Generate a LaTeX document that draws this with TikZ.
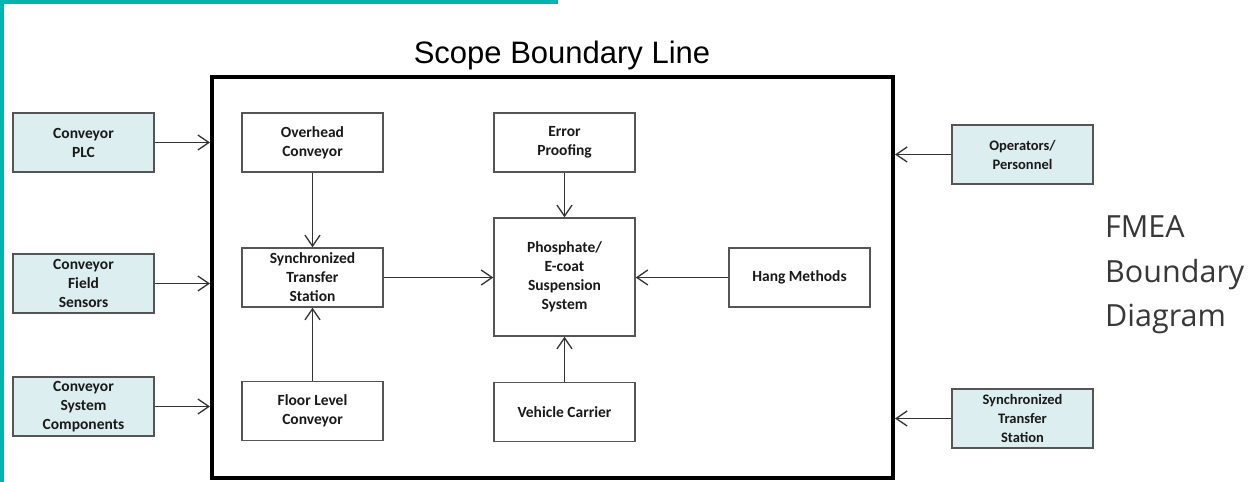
\documentclass[tikz,border=0pt]{standalone}
\usepackage{fontspec}
\setmainfont{Carlito}
\newfontfamily\arialf{Liberation Sans}
\newfontfamily\osans{Open Sans}
\usetikzlibrary{arrows.meta}
\definecolor{teal1}{HTML}{00B5AD}
\definecolor{boxfill}{HTML}{DDEEF0}
\definecolor{boxline}{HTML}{555555}
\definecolor{lnc}{HTML}{333333}
\definecolor{fmeac}{HTML}{383838}
\tikzset{
  x=1pt, y=-1pt,
  blk/.style={draw=boxline, line width=1.4pt, minimum width=141pt, minimum height=59pt,
    inner sep=1pt, align=center, font=\fontsize{15.5}{19}\selectfont\bfseries, text=black!90},
  ext/.style={blk, fill=boxfill},
  extr/.style={ext, font=\fontsize{14.5}{19}\selectfont\bfseries},
  conn/.style={draw=lnc, line width=1.3pt, -{Straight Barb[length=11pt,width=15pt,line width=1.3pt]}},
  fmea/.style={anchor=base west, inner sep=0pt, font=\osans\fontsize{30.5}{40}\selectfont, text=fmeac}
}
\begin{document}
\begin{tikzpicture}
\useasboundingbox (0,0) rectangle (1259,482);
\fill[white] (0,0) rectangle (1259,482);
% teal frame
\fill[teal1] (0,0) rectangle (558,4);
\fill[teal1] (0,0) rectangle (4,482);
% scope boundary
\node[draw=black, line width=4pt, minimum width=681pt, minimum height=401pt, inner sep=0pt] (scope) at (552.5,277.5) {};
\node[anchor=base, inner sep=0pt, font=\arialf\fontsize{31}{36}\selectfont] (title) at (562,63) {Scope Boundary Line};
% external boxes left
\node[ext] (plc) at (83.5,142.5) {Conveyor\\PLC};
\node[ext] (sens) at (83.5,283.5) {Conveyor\\Field\\Sensors};
\node[ext] (comp) at (83.5,406.5) {Conveyor\\System\\Components};
% external boxes right
\node[extr] (oper) at (1022.5,154.5) {Operators/\\Personnel};
\node[extr] (stsx) at (1022.5,418.5) {Synchronized\\Transfer\\Station};
% inner boxes
\node[blk] (over) at (312.5,142.5) {Overhead\\Conveyor};
\node[blk] (sync) at (312.5,277.5) {Synchronized\\Transfer\\Station};
\node[blk] (floor) at (312.5,411) {Floor Level\\Conveyor};
\node[blk] (err) at (564.5,142.5) {Error\\Proofing};
\node[blk, minimum height=118pt] (phos) at (564.5,277) {Phosphate/\\E-coat\\Suspension\\System};
\node[blk] (hang) at (799.5,277.5) {Hang Methods};
\node[blk] (veh) at (564.5,412) {Vehicle Carrier};
% FMEA label
\node[fmea] (f1) at (1105,237) {FMEA};
\node[fmea] (f2) at (1105,282) {Boundary};
\node[fmea] (f3) at (1105,326) {Diagram};
% connectors
\draw[conn] (plc.east) -- (plc.east -| scope.west);
\draw[conn] (sens.east) -- (sens.east -| scope.west);
\draw[conn] (comp.east) -- (comp.east -| scope.west);
\draw[conn] (oper.west) -- (oper.west -| scope.east);
\draw[conn] (stsx.west) -- (stsx.west -| scope.east);
\draw[conn] (over.south) -- (sync.north);
\draw[conn] (floor.north) -- (sync.south);
\draw[conn] (sync.east) -- (sync.east -| phos.west);
\draw[conn] (hang.west) -- (hang.west -| phos.east);
\draw[conn] (err.south) -- (phos.north);
\draw[conn] (veh.north) -- (phos.south);
\end{tikzpicture}
\end{document}
